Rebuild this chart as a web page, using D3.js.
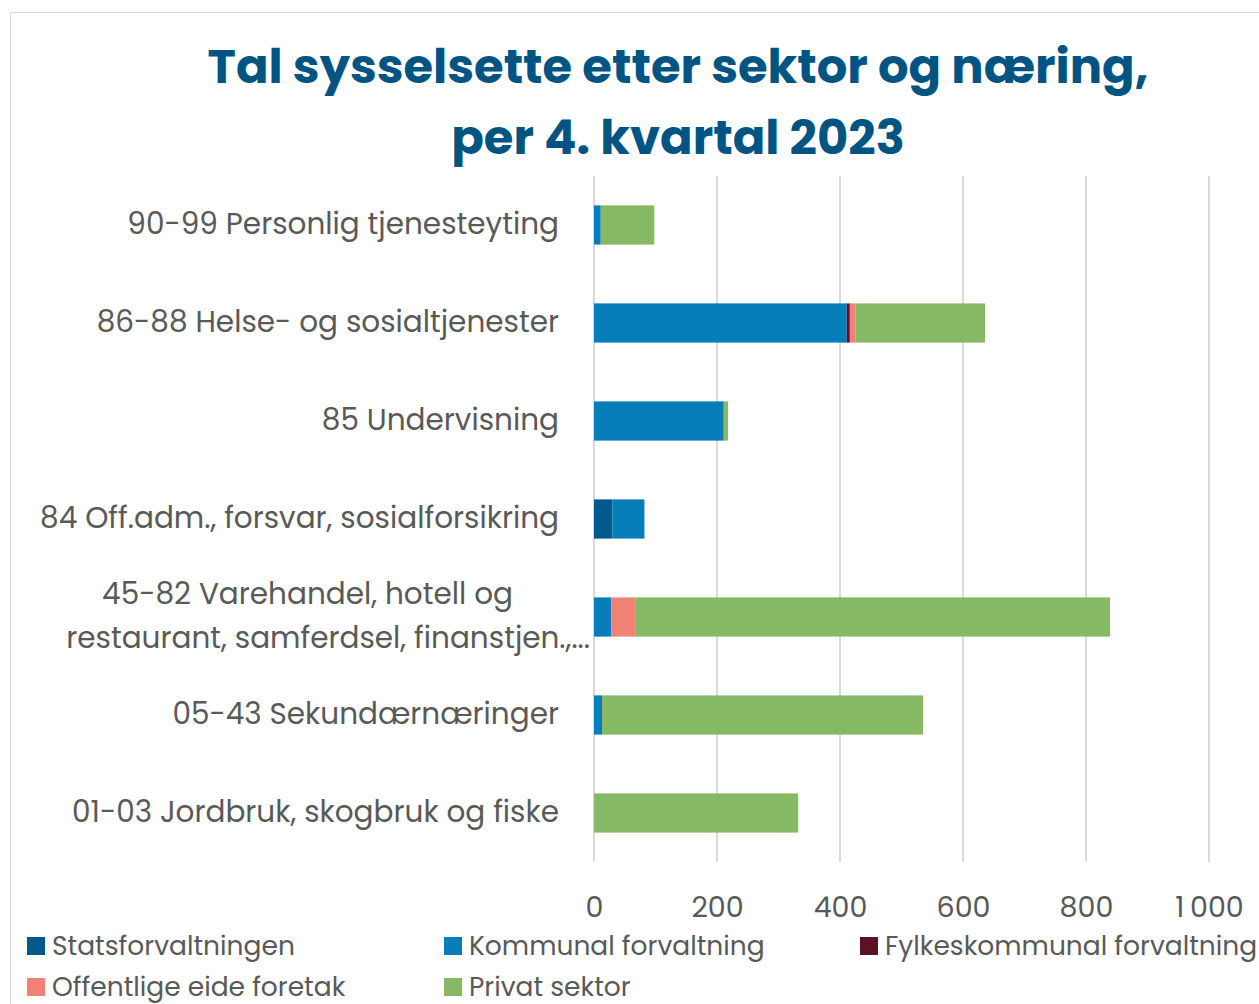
<!DOCTYPE html>
<html>
<head>
<meta charset="utf-8">
<script src="https://cdn.jsdelivr.net/npm/d3@7"></script>
<style>
  body { margin: 0; background: #fff; }
  svg { font-family: "Poppins", "Open Sans", "Noto Sans", sans-serif; }
</style>
</head>
<body>
<div class="main"></div>
<script>
// categories top to bottom
let categories = [
    ["90-99 Personlig tjenesteyting"],
    ["86-88 Helse- og sosialtjenester"],
    ["85 Undervisning"],
    ["84 Off.adm., forsvar, sosialforsikring"],
    ["45-82 Varehandel, hotell og", "restaurant, samferdsel, finanstjen.,..."],
    ["05-43 Sekundærnæringer"],
    ["01-03 Jordbruk, skogbruk og fiske"]
];
let seriesNames = ["Statsforvaltningen", "Kommunal forvaltning", "Fylkeskommunal forvaltning", "Offentlige eide foretak", "Privat sektor"];
let seriesColors = ["#03598b", "#077db9", "#5a1226", "#f08275", "#86b964"];

let stat     = [0, 0, 0, 30, 0, 0, 0];
let kommunal = [11, 411, 211, 52, 28, 13, 0];
let fylke    = [0, 5, 0, 0, 0, 0, 0];
let offentl  = [0, 9, 0, 0, 40, 0, 0];
let privat   = [87, 211, 7, 0, 771, 522, 332];

let ticks = [0, 200, 400, 600, 800, 1000];

let width = 1259, height = 1004;
let svg = d3.select('.main').append('svg').attr('width', width).attr('height', height);

// chart frame (partly outside the picture)
svg.append('rect')
    .attr('x', 10.5).attr('y', 12.5)
    .attr('width', 1300).attr('height', 1100)
    .attr('fill', 'none').attr('stroke', '#d9d9d9');

let title = ['Tal sysselsette etter sektor og næring,', 'per 4. kvartal 2023'];
svg.append('g').selectAll('text')
    .data(title)
    .enter().append('text')
    .attr('x', 678).attr('y', (d, i) => 83 + i * 71)
    .attr('text-anchor', 'middle')
    .attr('font-size', 48).attr('font-weight', 'bold')
    .attr('fill', '#005482')
    .text(d => d);

let x = d3.scaleLinear().domain([0, 1000]).range([594, 1209]);
let y = d3.scaleBand().domain(d3.range(categories.length)).range([176, 862]).paddingInner(0.6).paddingOuter(0.3);

// gridlines
svg.append('g').selectAll('line')
    .data(ticks)
    .enter().append('line')
    .attr('x1', d => x(d)).attr('x2', d => x(d))
    .attr('y1', 176).attr('y2', 862)
    .attr('stroke', '#d9d9d9').attr('stroke-width', 2);

let rows = categories.map((c, i) => ({
    i: i,
    vals: [stat[i], kommunal[i], fylke[i], offentl[i], privat[i]]
}));
let stack = d3.stack().keys(d3.range(5)).value((d, k) => d.vals[k]);
let layers = stack(rows);

svg.append('g').selectAll('g')
    .data(layers)
    .enter().append('g')
    .attr('fill', (d, k) => seriesColors[k])
    .selectAll('rect')
    .data(d => d)
    .enter().append('rect')
    .attr('x', d => x(d[0]))
    .attr('width', d => x(d[1]) - x(d[0]))
    .attr('y', d => y(d.data.i))
    .attr('height', y.bandwidth());

// category labels
let labels = svg.append('g').selectAll('text')
    .data(categories)
    .enter().append('text')
    .attr('text-anchor', 'end')
    .attr('font-size', 29.5)
    .attr('fill', '#595959')
    .attr('y', (d, i) => y(i) + y.bandwidth() / 2 + 9 - (d.length - 1) * 22);
labels.each(function (d) {
    let t = d3.select(this);
    d.forEach((line, j) => {
        t.append('tspan')
            .attr('x', d.length > 1 ? (j === 0 ? 513 : 590) : 559)
            .attr('dy', j === 0 ? 0 : 44)
            .text(line);
    });
});

// x axis
let xAxis = d3.axisBottom(x).tickValues(ticks).tickSize(0).tickFormat(d => d3.format(',')(d).replace(',', '\u2009'));
let ax = svg.append('g').attr('transform', 'translate(0,894)').call(xAxis);
ax.select('.domain').remove();
ax.selectAll('text').attr('font-size', 28.5).attr('fill', '#595959').attr('font-family', '"Poppins", "Open Sans", sans-serif');

// legend
let legendPos = [[27, 946], [444, 946], [860, 946], [27, 987], [444, 987]];
let legend = svg.append('g').selectAll('g')
    .data(seriesNames)
    .enter().append('g')
    .attr('transform', (d, i) => `translate(${legendPos[i][0]},${legendPos[i][1]})`);
legend.append('rect')
    .attr('x', 0).attr('y', -9).attr('width', 18).attr('height', 18)
    .attr('fill', (d, i) => seriesColors[i]);
legend.append('text')
    .attr('x', 25).attr('y', 9)
    .attr('font-size', 26.5).attr('fill', '#595959')
    .text(d => d);
</script>
</body>
</html>
